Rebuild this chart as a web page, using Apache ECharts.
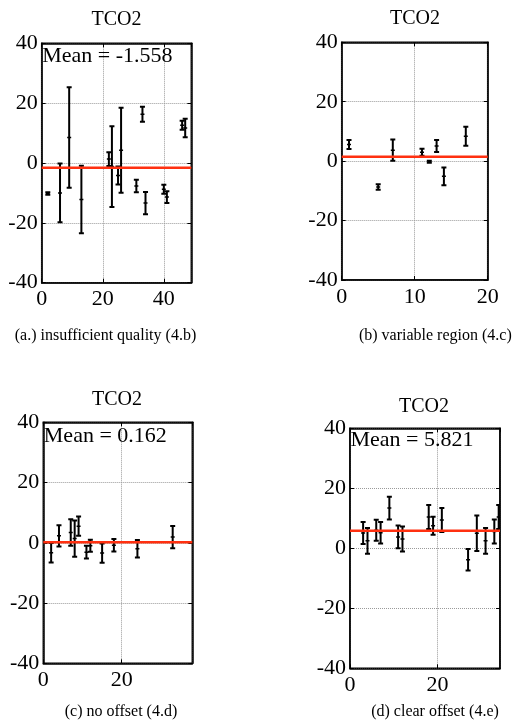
<!DOCTYPE html>
<html>
<head>
<meta charset="utf-8">
<script src="https://cdn.jsdelivr.net/npm/echarts@6/dist/echarts.min.js"></script>
<style>
  html, body { margin: 0; padding: 0; background: #fff; }
  #chart { width: 521px; height: 722px; }
  .fontwarm { position: absolute; left: -9999px; top: 0; font-family: 'Liberation Serif', serif; font-size: 20px; }
</style>
</head>
<body>
<div class="fontwarm">TCO2 Mean 0123456789</div>
<div id="chart"></div>
<script>
// TCO2 offsets (value with ± error) per crossover, four example cases

// (a) insufficient quality
const aX   = [2, 6, 9, 13, 22, 23, 25, 26, 31, 33, 34, 40, 41, 46, 47];
const aY   = [-10.2, -10, 8.5, -12.2, 1.3, -1.2, -4.2, 4.3, -7.7, 16.3, -13.4, -8.8, -11.4, 12.6, 11.7];
const aErr = [0.4, 9.8, 16.8, 11.3, 2.3, 13.5, 3.0, 14.2, 2.1, 2.5, 3.7, 1.5, 2.0, 1.5, 3.1];

// (b) variable region
const bX   = [1, 5, 7, 11, 12, 13, 14, 17];
const bY   = [5.6, -8.7, 3.7, 3.0, -0.2, 5.1, -5.1, 8.4];
const bErr = [1.5, 0.9, 3.6, 1.2, 0.3, 2.0, 3.0, 3.2];

// (c) no offset
const cX   = [2, 4, 7, 8, 9, 11, 12, 15, 18, 24, 33];
const cY   = [-3.3, 2.3, 3.4, 1.4, 5.5, -3.1, -1.0, -3.4, -0.8, -2.0, 1.9];
const cErr = [3.2, 3.5, 4.4, 6.0, 3.2, 2.1, 2.0, 3.2, 2.1, 2.9, 3.7];

// (d) clear offset
const dX   = [3, 4, 6, 7, 9, 11, 12, 18, 19, 21, 27, 29, 31, 33, 34];
const dY   = [5.1, 2.5, 6.0, 5.2, 13.4, 3.8, 3.1, 10.4, 7.5, 9.4, -3.8, 5.0, 2.5, 5.6, 10.4];
const dErr = [3.7, 4.3, 3.5, 3.6, 3.8, 3.8, 4.2, 4.0, 3.0, 4.0, 3.6, 5.9, 4.3, 4.0, 4.0];

// mean offsets (null = no label printed)
const means      = [-1.558, 1.5, 0.162, 5.821];
const meanLabels = ['Mean = -1.558', null, 'Mean = 0.162', 'Mean = 5.821'];

// axis ranges and ticks
const yTicks   = [-40, -20, 0, 20, 40];
const xMaxes   = [49, 20, 38, 34.3];
const xSteps   = [20, 10, 20, 20];

const panelTitle = 'TCO2';
const captions = [
  '(a.) insufficient quality (4.b)',
  '(b) variable region (4.c)',
  '(c) no offset (4.d)',
  '(d) clear offset (4.e)'
];

const panelData = [
  [aX, aY, aErr],
  [bX, bY, bErr],
  [cX, cY, cErr],
  [dX, dY, dErr]
];

// page layout of the four panels (pixels)
const layout = [
  { left: 41.7,  top: 43.3,  width: 149.6, height: 239.4, titleX: 116.5, titleY: 19.7, capX: 105.5, capY: 335.7, meanY: 56 },
  { left: 341.7, top: 42.3,  width: 146,   height: 237.7, titleX: 415,   titleY: 19.2, capX: 435.3, capY: 335.7, meanY: 55 },
  { left: 43.3,  top: 422.3, width: 149,   height: 241,   titleX: 117,   titleY: 399.5, capX: 121,  capY: 712,   meanY: 436 },
  { left: 350,   top: 428.3, width: 150,   height: 240,   titleX: 424,   titleY: 407,  capX: 435,   capY: 712,   meanY: 440.5 }
];

const FONT = "'Liberation Serif', 'DejaVu Serif', serif";
const INK = '#000';
const MEAN_RED = '#ff3010';

function errorBar(params, api) {
  const x = api.value(0), y = api.value(1), e = api.value(2);
  const top = api.coord([x, y + e]);
  const bot = api.coord([x, y - e]);
  const mid = api.coord([x, y]);
  const cap = 2.5;
  const st = { stroke: INK, lineWidth: 2 };
  return {
    type: 'group',
    children: [
      { type: 'line', shape: { x1: top[0], y1: top[1], x2: bot[0], y2: bot[1] }, style: st },
      { type: 'line', shape: { x1: top[0] - cap, y1: top[1], x2: top[0] + cap, y2: top[1] }, style: st },
      { type: 'line', shape: { x1: bot[0] - cap, y1: bot[1], x2: bot[0] + cap, y2: bot[1] }, style: st },
      { type: 'line', shape: { x1: mid[0] - 2, y1: mid[1], x2: mid[0] + 2, y2: mid[1] }, style: { stroke: INK, lineWidth: 1.5 } }
    ]
  };
}

function draw() {
  const chart = echarts.init(document.getElementById('chart'), null, { renderer: 'canvas' });
  const grids = [], xAxes = [], yAxes = [], series = [], graphics = [];

  layout.forEach((L, i) => {
    grids.push({
      left: L.left, top: L.top, width: L.width, height: L.height,
      show: true, borderColor: INK, borderWidth: 1.5, backgroundColor: 'transparent',
      containLabel: false, outerBoundsMode: 'none'
    });

    const xMax = xMaxes[i], xStep = xSteps[i];
    const edgeLabel = (xMax % xStep === 0);

    // bottom x axis with labels and dotted grid
    xAxes.push({
      type: 'value', gridIndex: i, position: 'bottom', min: 0, max: xMax, interval: xStep,
      axisLine: { show: true, onZero: false, lineStyle: { color: INK, width: 1.5 } },
      axisTick: { show: true, inside: true, length: 4, lineStyle: { color: INK, width: 1 } },
      axisLabel: { show: true, color: INK, fontFamily: FONT, fontSize: 22, margin: 6, showMaxLabel: edgeLabel, showMinLabel: true },
      splitLine: { show: true, lineStyle: { color: '#9a9a9a', type: 'dotted', width: 1 } }
    });
    // top x axis: ticks only
    xAxes.push({
      type: 'value', gridIndex: i, position: 'top', min: 0, max: xMax, interval: xStep,
      axisLine: { show: true, onZero: false, lineStyle: { color: INK, width: 1.5 } },
      axisTick: { show: true, inside: true, length: 4, lineStyle: { color: INK, width: 1 } },
      axisLabel: { show: false }, splitLine: { show: false }
    });
    // left y axis with labels
    yAxes.push({
      type: 'value', gridIndex: i, position: 'left', min: yTicks[0], max: yTicks[yTicks.length - 1], interval: 20,
      axisLine: { show: true, onZero: false, lineStyle: { color: INK, width: 1.5 } },
      axisTick: { show: true, inside: true, length: 4, lineStyle: { color: INK, width: 1 } },
      axisLabel: { show: true, color: INK, fontFamily: FONT, fontSize: 22, margin: 4, showMaxLabel: true, showMinLabel: true },
      splitLine: { show: true, lineStyle: { color: '#9a9a9a', type: 'dotted', width: 1 } }
    });
    // right y axis: ticks only
    yAxes.push({
      type: 'value', gridIndex: i, position: 'right', min: yTicks[0], max: yTicks[yTicks.length - 1], interval: 20,
      axisLine: { show: true, onZero: false, lineStyle: { color: INK, width: 1.5 } },
      axisTick: { show: true, inside: true, length: 4, lineStyle: { color: INK, width: 1 } },
      axisLabel: { show: false }, splitLine: { show: false }
    });

    const [xs, ys, es] = panelData[i];
    series.push({
      type: 'custom', name: captions[i],
      xAxisIndex: 2 * i, yAxisIndex: 2 * i,
      renderItem: errorBar, clip: true, z: 3,
      encode: { x: 0, y: 1 },
      data: xs.map((x, k) => [x, ys[k], es[k]])
    });
    series.push({
      type: 'line', name: 'mean ' + i,
      xAxisIndex: 2 * i, yAxisIndex: 2 * i,
      symbol: 'none', silent: true, z: 4,
      lineStyle: { color: MEAN_RED, width: 2.5 },
      data: [[0, means[i]], [xMax, means[i]]]
    });

    graphics.push({
      type: 'text', x: L.titleX, y: L.titleY, z: 10,
      style: { text: panelTitle, fill: INK, fontFamily: FONT, fontSize: 20, align: 'center', verticalAlign: 'middle' }
    });
    graphics.push({
      type: 'text', x: L.capX, y: L.capY, z: 10,
      style: { text: captions[i], fill: INK, fontFamily: FONT, fontSize: 16, align: 'center', verticalAlign: 'middle' }
    });
    if (meanLabels[i]) {
      graphics.push({
        type: 'text', x: L.left + 0.5, y: L.meanY, z: 10,
        style: { text: meanLabels[i], fill: INK, fontFamily: FONT, fontSize: 22, align: 'left', verticalAlign: 'middle' }
      });
    }
  });

  chart.setOption({
    animation: false,
    backgroundColor: '#fff',
    textStyle: { fontFamily: FONT },
    grid: grids,
    xAxis: xAxes,
    yAxis: yAxes,
    series: series,
    graphic: graphics
  });
}

if (document.fonts && document.fonts.load) {
  Promise.all([
    document.fonts.load("22px 'Liberation Serif'"),
    document.fonts.load("16px 'Liberation Serif'")
  ]).then(draw, draw);
} else {
  draw();
}
</script>
</body>
</html>
